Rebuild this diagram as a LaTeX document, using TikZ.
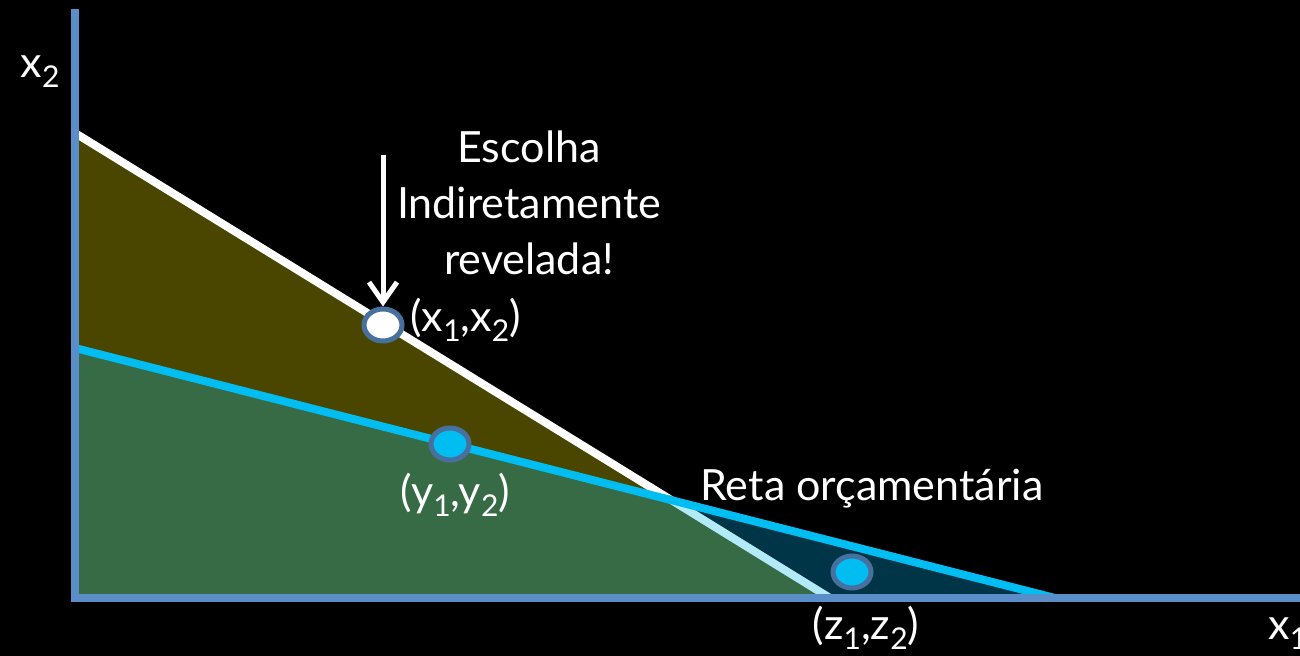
\documentclass[tikz,border=0pt]{standalone}
\usepackage{fontspec}
\setmainfont{Lato}
\usepackage{xcolor}
\usepackage{tikz}
\usetikzlibrary{arrows.meta,positioning,calc,shapes.geometric}

\definecolor{olivefill}{HTML}{4A4600}
\definecolor{greenfill}{HTML}{376B46}
\definecolor{tealfill}{HTML}{003547}
\definecolor{budgetblue}{HTML}{00BDF2}
\definecolor{paleblue}{HTML}{B3EAF8}
\definecolor{axisblue}{HTML}{5A8EC8}
\definecolor{ringblue}{HTML}{48709E}

\newcommand{\idx}[1]{\raisebox{-0.45ex}{\fontsize{15}{15}\selectfont #1}}

\begin{document}
\begin{tikzpicture}[
  x=0.5pt, y=-0.5pt,                 % one unit = one pixel of the slide
  every node/.style={text=white, inner sep=1pt, font=\fontsize{21.5}{28}\selectfont},
  >={Straight Barb[length=10pt,width=14pt]},
  axis/.style={axisblue, line width=4pt},
  budget/.style={line width=4pt},
  choice/.style={ellipse, draw=ringblue, line width=2.5pt, minimum width=19pt, minimum height=16pt, inner sep=0pt}
]
\useasboundingbox[fill=black] (0,0) rectangle (1300,656);

% corners of the two budget sets
\coordinate (o)  at (75,598);
\coordinate (xa) at (75,133);   % old line, top
\coordinate (xb) at (830,598);  % old line, bottom
\coordinate (ya) at (75,348);   % new line, top
\coordinate (yb) at (1055,598); % new line, bottom
\coordinate (cut) at (668,498);  % where they cross

% shaded regions
\fill[olivefill] (xa) -- (cut) -- (ya) -- cycle;
\fill[greenfill] (ya) -- (cut) -- (xb) -- (o) -- cycle;
\fill[tealfill] (cut) -- (yb) -- (xb) -- cycle;

% budget lines
\draw[budget, white] (xa) -- (cut);
\draw[budget, paleblue] (cut) -- (xb);
\draw[budget, budgetblue] (ya) -- (yb);

% axes
\draw[axis] (75,9) -- (75,602);
\draw[axis] (71,598) -- (1300,598);
\node (lx2) at (40,72) {x\idx{2}};
\node[anchor=west] (lx1) at (1266,634) {x\idx{1}};

% chosen bundles
\node[choice, fill=white] (xpt) at (383,325) {};
\node[choice, fill=budgetblue] (ypt) at (450,444) {};
\node[choice, fill=budgetblue] (zpt) at (852,572) {};

\node[anchor=west] (xlab) at (408,320) {(x\idx{1},x\idx{2})};
\node (ylab) at (455,495) {(y\idx{1},y\idx{2})};
\node (zlab) at (866,628) {(z\idx{1},z\idx{2})};
\node[anchor=west] (reta) at (698,489) {Reta orçamentária};
\node[align=center] (escolha) at (529,203) {Escolha\\Indiretamente\\revelada!};

\coordinate (arrtop) at (383,155);
\draw[->, white, line width=2.5pt] (arrtop) -- (xpt.north);
\end{tikzpicture}
\end{document}
